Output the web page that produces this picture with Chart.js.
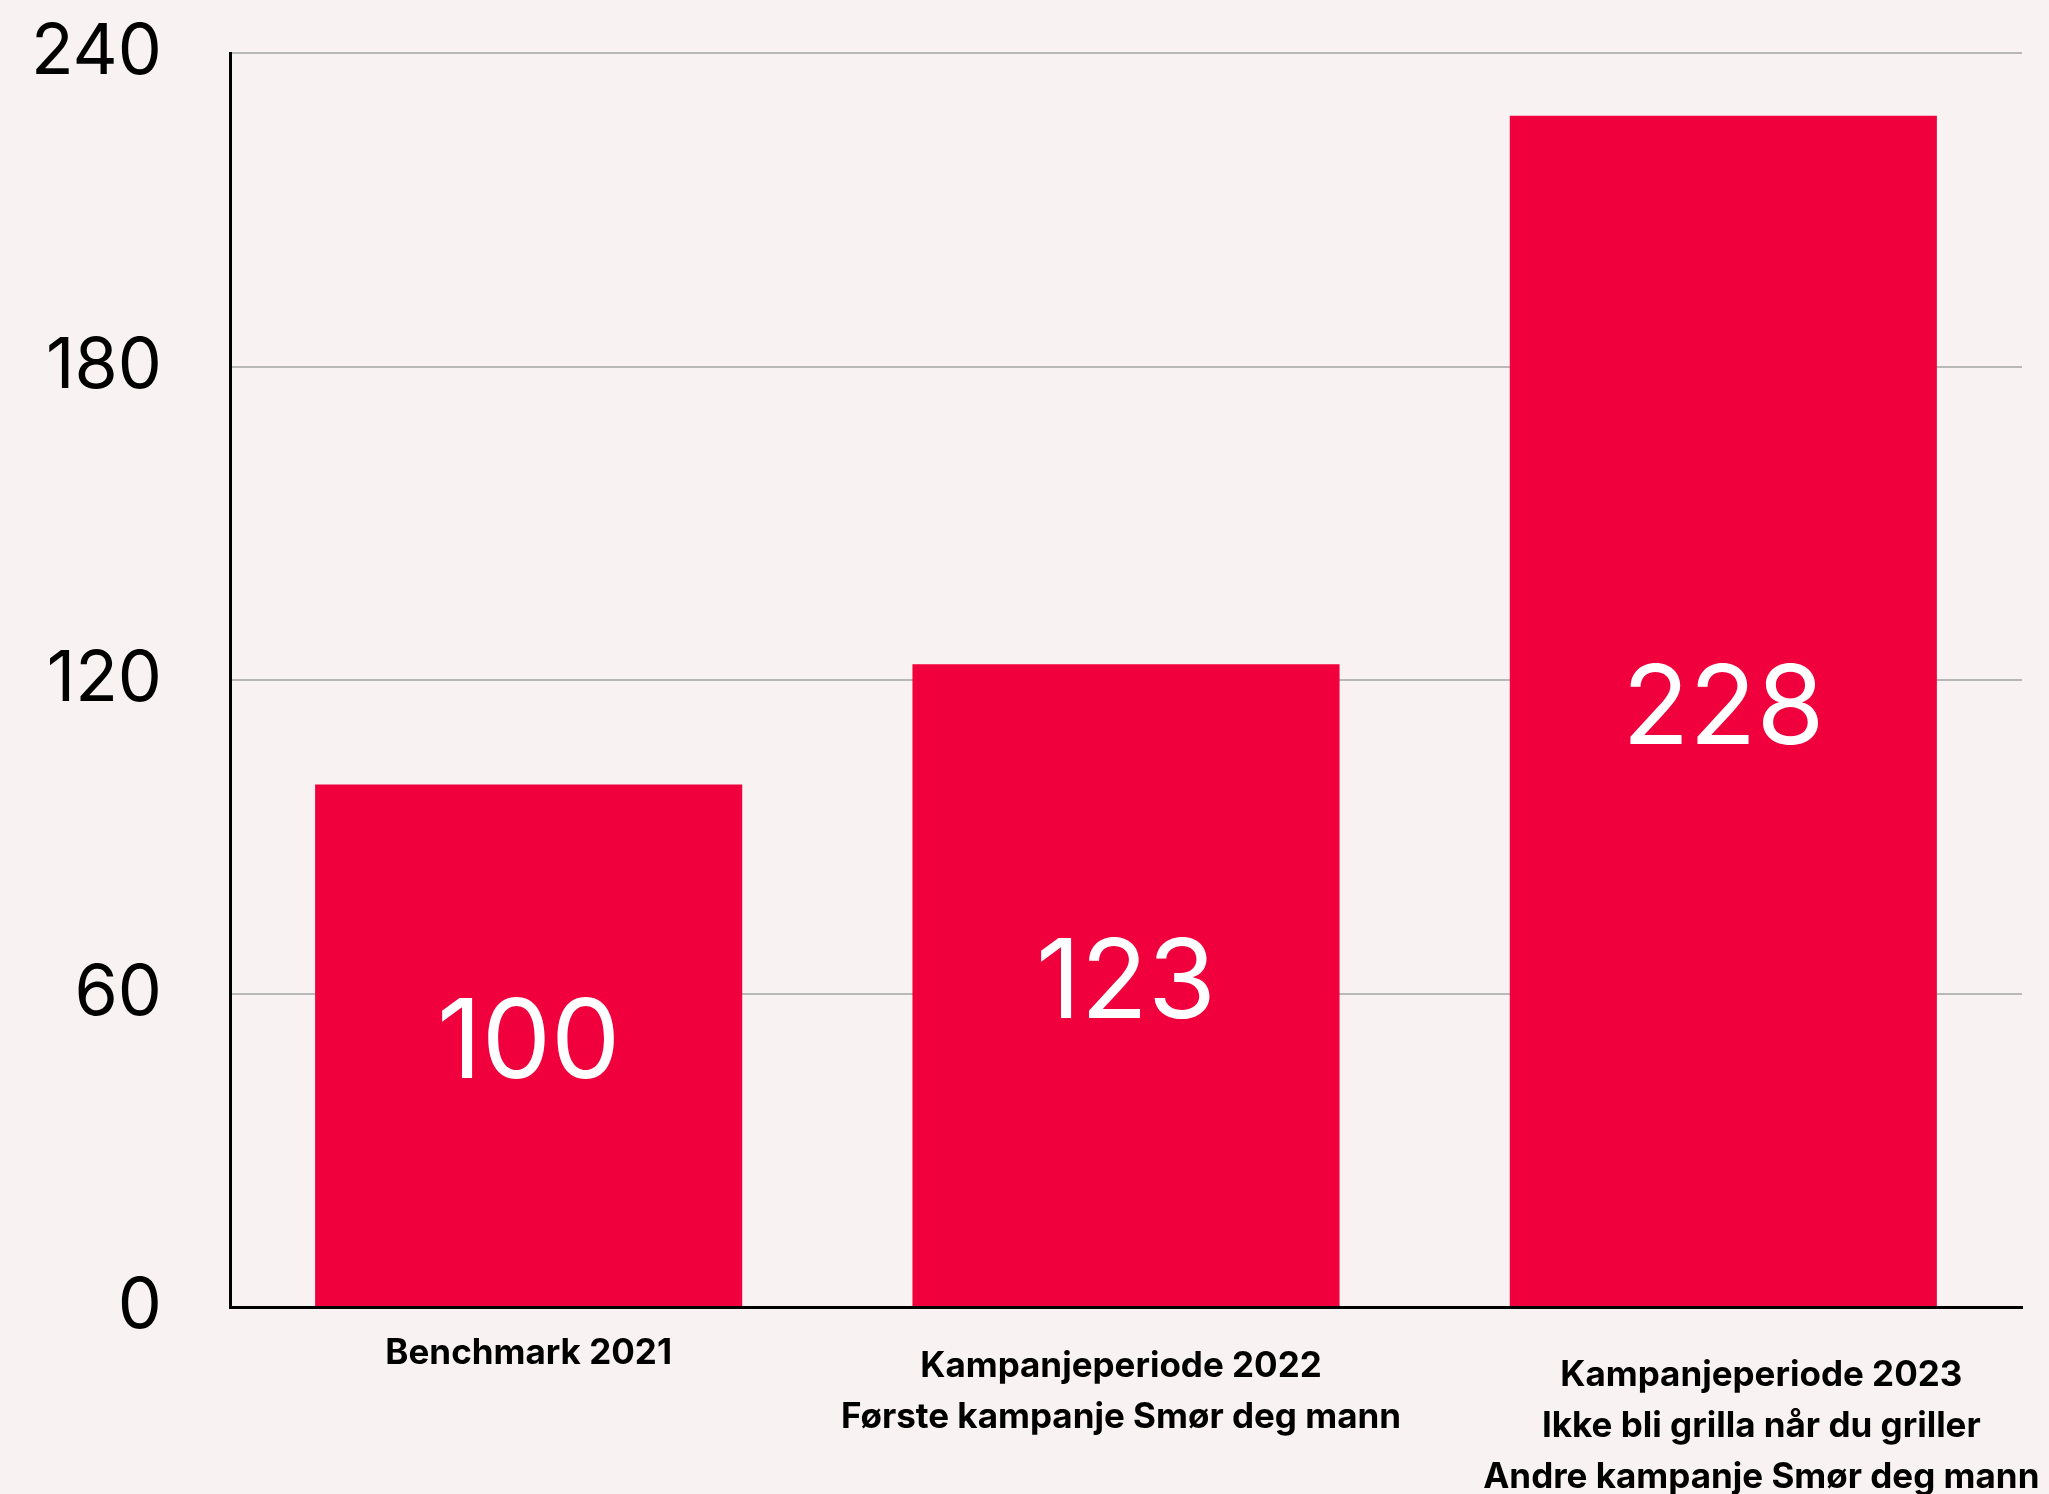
<!DOCTYPE html>
<html>
<head>
<meta charset="utf-8">
<script src="https://cdn.jsdelivr.net/npm/chart.js@4.4.0/dist/chart.umd.min.js"></script>
<style>
html,body{margin:0;padding:0;background:#f8f2f2;}
#wrap{width:2049px;height:1494px;position:relative;}
</style>
</head>
<body>
<div id="wrap"><canvas id="c" width="2049" height="1494"></canvas></div>
<script>
const categories = [
  ["Benchmark 2021"],
  ["Kampanjeperiode 2022", "Første kampanje Smør deg mann"],
  ["Kampanjeperiode 2023", "Ikke bli grilla når du griller", "Andre kampanje Smør deg mann"]
];
const values = [100, 123, 228];
const yTicks = [0, 60, 120, 180, 240];

const FONT = 'Inter, "Open Sans", sans-serif';

const barLabels = {
  id: 'barLabels',
  afterDatasetsDraw(chart) {
    const ctx = chart.ctx;
    const meta = chart.getDatasetMeta(0);
    ctx.save();
    ctx.fillStyle = '#ffffff';
    ctx.font = '400 110px ' + FONT;
    ctx.textAlign = 'center';
    ctx.textBaseline = 'middle';
    meta.data.forEach((bar, i) => {
      const y = (bar.y + bar.base) / 2;
      ctx.fillText(String(values[i]), bar.x, y);
    });
    ctx.restore();
  }
};

const xLabels = {
  id: 'xLabels',
  afterDraw(chart, args, opts) {
    const ctx = chart.ctx;
    const xs = chart.scales.x;
    const top = chart.chartArea.bottom;
    ctx.save();
    ctx.fillStyle = '#000000';
    ctx.font = '700 35px ' + FONT;
    ctx.textAlign = 'center';
    ctx.textBaseline = 'middle';
    const lineH = 51;
    categories.forEach((lines, i) => {
      const x = xs.getPixelForTick(i) + opts.dx[i];
      const y0 = top + opts.dy[i];
      lines.forEach((t, j) => ctx.fillText(t, x, y0 + j * lineH));
    });
    ctx.restore();
  }
};

new Chart(document.getElementById('c'), {
  type: 'bar',
  data: {
    labels: categories,
    datasets: [{
      data: values,
      backgroundColor: '#f0003c',
      borderWidth: 0,
      categoryPercentage: 1.0,
      barPercentage: 0.715
    }]
  },
  options: {
    responsive: false,
    animation: false,
    devicePixelRatio: 1,
    layout: { padding: { top: 53, right: 27, left: 0, bottom: 0 } },
    plugins: {
      legend: { display: false },
      tooltip: { enabled: false },
      xLabels: { dx: [0, -5, 38], dy: [46, 59, 68] }
    },
    scales: {
      x: {
        grid: { display: false, drawTicks: false },
        border: { display: true, color: '#000000', width: 3 },
        ticks: { display: false },
        afterFit(scale) { scale.height = 187; }
      },
      y: {
        min: 0,
        max: 240,
        afterBuildTicks(scale) { scale.ticks = yTicks.map(v => ({ value: v })); },
        grid: { color: '#b8b8b8', lineWidth: 2, drawTicks: false },
        border: { display: true, color: '#000000', width: 3 },
        ticks: {
          color: '#000000',
          font: { family: FONT, size: 70, weight: '400', lineHeight: 1.2 },
          padding: 68
        },
        afterFit(scale) { scale.width = 230; scale.paddingTop = 0; scale.paddingBottom = 0; }
      }
    }
  },
  plugins: [barLabels, xLabels, {
    id: 'bg',
    beforeDraw(chart) {
      const ctx = chart.ctx;
      ctx.save();
      ctx.fillStyle = '#f8f2f2';
      ctx.fillRect(0, 0, chart.width, chart.height);
      ctx.restore();
    }
  }]
});
</script>
</body>
</html>
